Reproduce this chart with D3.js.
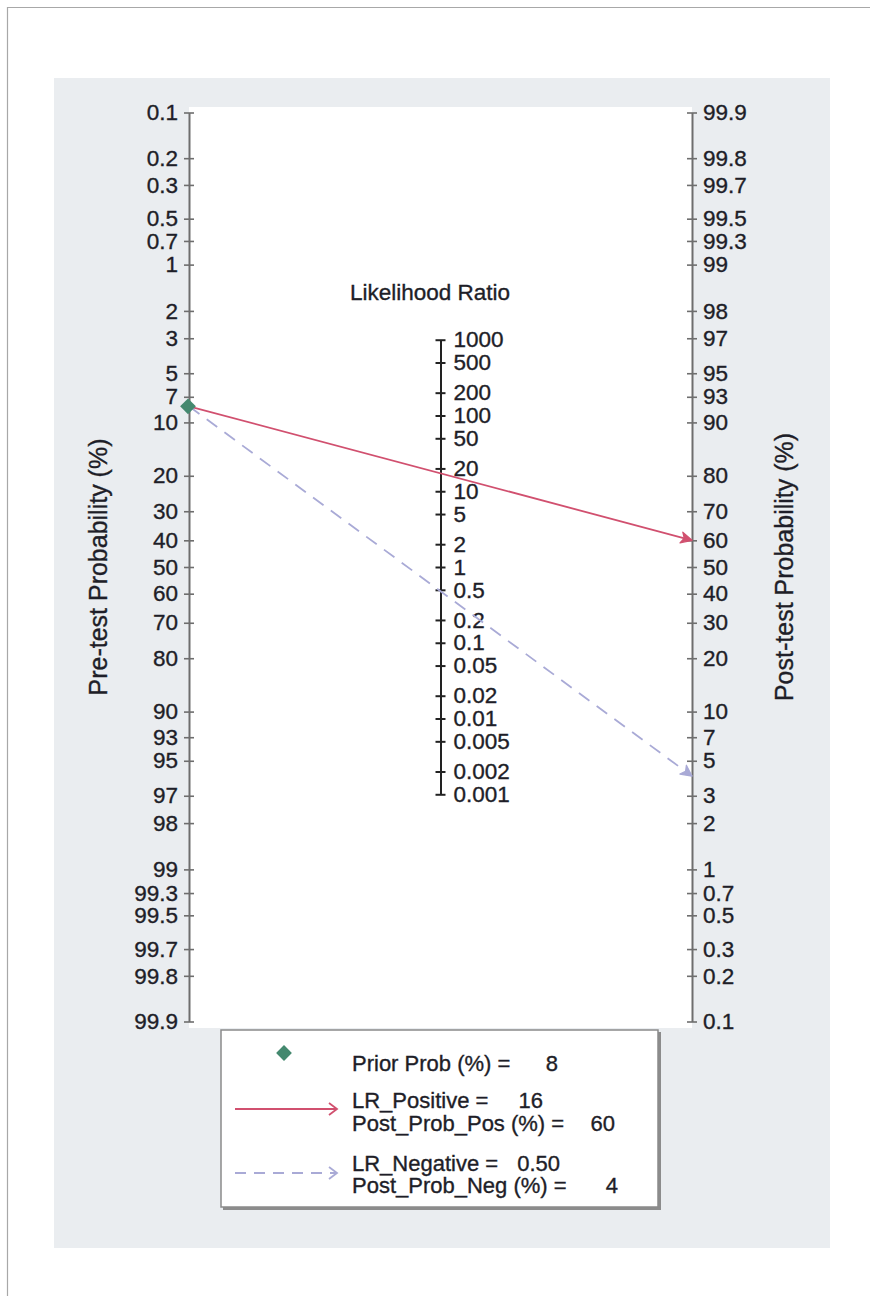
<!DOCTYPE html>
<html>
<head>
<meta charset="utf-8">
<script src="https://cdn.jsdelivr.net/npm/d3@7"></script>
<style>
  html, body { margin: 0; padding: 0; background: #fff; }
  svg { display: block; }
  text { font-family: "Liberation Sans", Arial, Helvetica, sans-serif; fill: #1e1e28; stroke: #1e1e28; stroke-width: 0.35px; }
</style>
</head>
<body>
<svg id="chart" width="870" height="1296"></svg>
<script>
// Probability ticks (%) shared by the pre-test and post-test axes
const probTicks = [0.1, 0.2, 0.3, 0.5, 0.7, 1, 2, 3, 5, 7, 10, 20, 30, 40, 50, 60, 70, 80, 90, 93, 95, 97, 98, 99, 99.3, 99.5, 99.7, 99.8, 99.9];
// Likelihood-ratio ticks on the middle axis
const lrTicks = [1000, 500, 200, 100, 50, 20, 10, 5, 2, 1, 0.5, 0.2, 0.1, 0.05, 0.02, 0.01, 0.005, 0.002, 0.001];

const priorProb = 8;       // pre-test probability (%)
const lrPositive = 16;     // positive likelihood ratio
const postProbPos = 60;    // post-test probability after a positive result (%)
const lrNegative = 0.50;   // negative likelihood ratio
const postProbNeg = 4;     // post-test probability after a negative result (%)

const svg = d3.select("#chart");
const W = 870, H = 1296;

const logit = p => Math.log(p / (1 - p));
const pct = v => logit(v / 100);
const L = logit(0.999);

const xPre = 189, xPost = 692, xLR = (xPre + xPost) / 2;
const yTop = 112.5, yBot = 1021.5;

// Fagan nomogram scales: logit for probabilities, half-slope log scale for LR
const yPre = d3.scaleLinear().domain([-L, L]).range([yTop, yBot]);
const yPost = d3.scaleLinear().domain([-L, L]).range([yBot, yTop]);
const yLR = d3.scaleLinear().domain([-L, L]).range([yPre(L / 2), yPre(-L / 2)]);

const FONT = 22.5;
const posColor = "#d1506f";
const negColor = "#a9aad6";
const axisColor = "#6e6e6e";

// outer frame lines
svg.append("line").attr("x1", 7).attr("x2", W).attr("y1", 7.5).attr("y2", 7.5)
  .attr("stroke", "#a8a8a8").attr("stroke-width", 1.2);
svg.append("line").attr("x1", 7.5).attr("x2", 7.5).attr("y1", 7).attr("y2", H)
  .attr("stroke", "#a8a8a8").attr("stroke-width", 1.2);

// graph region and plot region
svg.append("rect").attr("x", 54).attr("y", 78).attr("width", 776).attr("height", 1170)
  .attr("fill", "#eaedf0");
svg.append("rect").attr("x", xPre).attr("y", 107).attr("width", xPost - xPre).attr("height", 921)
  .attr("fill", "#ffffff");

function styleAxis(g, color, width, tickW) {
  g.select(".domain").attr("stroke", color).attr("stroke-width", width);
  g.selectAll(".tick line").attr("stroke", color).attr("stroke-width", tickW);
  g.selectAll(".tick text").attr("font-size", FONT)
    .attr("font-family", '"Liberation Sans", Arial, Helvetica, sans-serif')
    .style("fill", "#1e1e28").style("stroke", "#1e1e28").style("stroke-width", "0.35px");
}

// pre-test axis (left)
const gPre = svg.append("g").attr("transform", `translate(${xPre},0)`)
  .call(d3.axisLeft(yPre)
    .tickValues(probTicks.map(pct))
    .tickFormat((d, i) => String(probTicks[i]))
    .tickSizeInner(5).tickSizeOuter(0).tickPadding(6));
gPre.selectAll(".tick line").attr("x1", 5);
styleAxis(gPre, axisColor, 2, 1.6);

// post-test axis (right)
const gPost = svg.append("g").attr("transform", `translate(${xPost},0)`)
  .call(d3.axisRight(yPost)
    .tickValues(probTicks.map(pct))
    .tickFormat((d, i) => String(probTicks[i]))
    .tickSizeInner(5).tickSizeOuter(0).tickPadding(6));
gPost.selectAll(".tick line").attr("x1", -5);
styleAxis(gPost, axisColor, 2, 1.6);

// likelihood ratio axis (middle)
const gLR = svg.append("g").attr("transform", `translate(${xLR},0)`)
  .call(d3.axisRight(yLR)
    .tickValues(lrTicks.map(Math.log))
    .tickFormat((d, i) => String(lrTicks[i]))
    .tickSizeInner(5).tickSizeOuter(0).tickPadding(8));
gLR.selectAll(".tick line").attr("x1", -5);
styleAxis(gLR, "#222", 2, 2);

// axis titles
svg.append("text").attr("transform", `translate(107,${yPre(0)}) rotate(-90)`)
  .attr("text-anchor", "middle").attr("font-size", 25).text("Pre-test Probability (%)");
svg.append("text").attr("transform", `translate(793,${yPre(0)}) rotate(-90)`)
  .attr("text-anchor", "middle").attr("font-size", 25).text("Post-test Probability (%)");
svg.append("text").attr("x", 430).attr("y", 300)
  .attr("text-anchor", "middle").attr("font-size", FONT).text("Likelihood Ratio");

// arrowheads
const defs = svg.append("defs");
function arrowMarker(id, color) {
  defs.append("marker").attr("id", id)
    .attr("viewBox", "-12 -7 14 14").attr("refX", 0).attr("refY", 0)
    .attr("markerUnits", "userSpaceOnUse").attr("markerWidth", 14).attr("markerHeight", 14)
    .attr("orient", "auto")
    .append("path").attr("d", "M0,0 L-11,-5.5 L-8,0 L-11,5.5 Z")
    .attr("fill", color).attr("stroke", color).attr("stroke-width", 1.2).attr("stroke-linejoin", "round");
}
arrowMarker("arrPos", posColor);
arrowMarker("arrNeg", negColor);

const y0 = yPre(pct(priorProb));

// positive test line
svg.append("line")
  .attr("x1", xPre).attr("y1", y0)
  .attr("x2", xPost).attr("y2", yPost(pct(postProbPos)))
  .attr("stroke", posColor).attr("stroke-width", 1.8)
  .attr("marker-end", "url(#arrPos)");

// negative test line
svg.append("line")
  .attr("x1", xPre).attr("y1", y0)
  .attr("x2", xPost).attr("y2", yPost(pct(postProbNeg)))
  .attr("stroke", negColor).attr("stroke-width", 1.8)
  .attr("stroke-dasharray", "13,9")
  .attr("marker-end", "url(#arrNeg)");

// prior probability marker
const diamond = d3.symbol(d3.symbolSquare, 125);
svg.append("path").attr("d", diamond())
  .attr("transform", `translate(${xPre - 1},${y0}) rotate(45)`)
  .attr("fill", "#44896f");

// legend
const lg = svg.append("g");
lg.append("rect").attr("x", 223).attr("y", 1032).attr("width", 438).attr("height", 178)
  .attr("fill", "#8c8c8c");
lg.append("rect").attr("x", 221).attr("y", 1030).attr("width", 437).attr("height", 177)
  .attr("fill", "#fff").attr("stroke", "#8a8a8a").attr("stroke-width", 1.5);

lg.append("path").attr("d", diamond())
  .attr("transform", "translate(284,1053) rotate(45)").attr("fill", "#44896f");

function legendLine(y, color, dash) {
  lg.append("line").attr("x1", 235).attr("x2", 336).attr("y1", y).attr("y2", y)
    .attr("stroke", color).attr("stroke-width", 1.8).attr("stroke-dasharray", dash);
  lg.append("path").attr("d", `M329,${y - 6} L337,${y} L329,${y + 6}`)
    .attr("fill", "none").attr("stroke", color).attr("stroke-width", 1.8);
}
legendLine(1109, posColor, null);
legendLine(1173, negColor, "11,8");

const fmt2 = d3.format(".2f");
const legendRows = [
  { label: "Prior Prob (%) =", value: String(priorProb), y: 1063, end: 558 },
  { label: "LR_Positive =", value: String(lrPositive), y: 1100, end: 543 },
  { label: "Post_Prob_Pos (%) =", value: String(postProbPos), y: 1123, end: 615 },
  { label: "LR_Negative =", value: fmt2(lrNegative), y: 1163, end: 560 },
  { label: "Post_Prob_Neg (%) =", value: String(postProbNeg), y: 1185, end: 618 }
];
legendRows.forEach(r => {
  lg.append("text").attr("x", 352).attr("y", r.y).attr("dy", "0.35em")
    .attr("font-size", 22).text(r.label);
  lg.append("text").attr("x", r.end).attr("y", r.y).attr("dy", "0.35em")
    .attr("text-anchor", "end").attr("font-size", 22).text(r.value);
});
</script>
</body>
</html>
